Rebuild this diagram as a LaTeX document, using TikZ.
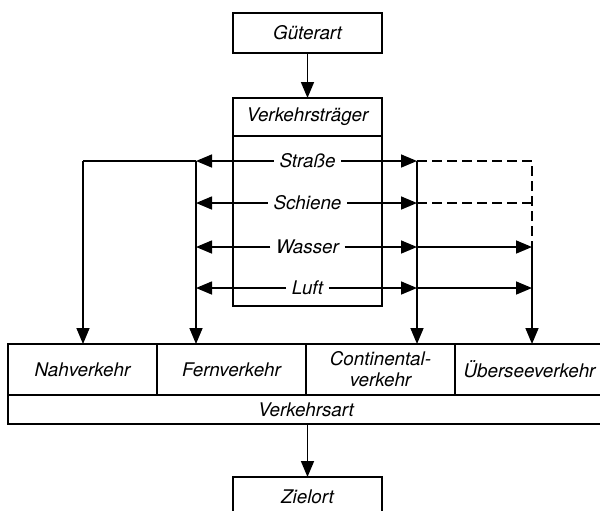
\documentclass[tikz,border=0pt]{standalone}
\usepackage{fontspec}
\setmainfont{TeX Gyre Heros}
\usepackage{tikz}
\usetikzlibrary{arrows.meta}
\usetikzlibrary{positioning}

\begin{document}
\begin{tikzpicture}[x=0.5pt,y=-0.5pt,
	line width=0.8pt,
	font=\fontsize{9.4}{10.5}\selectfont\itshape,
	kasten/.style={draw, inner sep=0pt, outer sep=0pt, minimum width=74.5pt, minimum height=20pt, align=center},
	pfeil/.style={-{Triangle[length=8pt,width=6.5pt]}},
	strich/.style={dash pattern=on 5pt off 2.5pt},
	modus/.style={inner sep=2.5pt}]
	\useasboundingbox (0,0) rectangle (600,510);
	% oberer Teil
	\node[kasten] (gut) at (307.5,33) {Güterart};
	\node[kasten, minimum height=19pt] (vt) at (307.5,117) {Verkehrsträger};
	\node[kasten, minimum height=85pt, anchor=north] (traeger) at (vt.south) {};
	\draw[pfeil] (gut.south) -- (vt.north);
	\foreach \m/\t/\y in {strasse/Straße/161, schiene/Schiene/203, wasser/Wasser/247, luft/Luft/288}
	\node[modus] (\m) at (307.5,\y) {\t};
	\coordinate (n0) at (83,161);
	\coordinate (f0) at (196,161);
	\coordinate (c0) at (417,161);
	\coordinate (u0) at (532,161);
	% unterer Teil
	\node[kasten, minimum height=25.5pt] (nah) at (82.5,369.5) {Nahverkehr};
	\node[kasten, minimum height=25.5pt, right=0pt of nah] (fern) {Fernverkehr};
	\node[kasten, minimum height=25.5pt, right=0pt of fern] (cont) {Continental-\\verkehr};
	\node[kasten, minimum height=25.5pt, right=0pt of cont] (ueber) {Überseeverkehr};
	\node[kasten, minimum width=298pt, minimum height=14.5pt] (art) at (306,409.5) {Verkehrsart};
	\node[kasten] (ziel) at (307.5,497) {Zielort};
	% Pfeile
	\foreach \m in {strasse, schiene, wasser, luft}{
		\draw[pfeil] (\m) -- (\m -| f0);
		\draw[pfeil] (\m) -- (\m -| c0);
	}
	\draw (f0) -- (n0);
	\draw[pfeil] (n0) -- (n0 |- nah.north);
	\draw[pfeil] (f0) -- (f0 |- fern.north);
	\draw[pfeil] (c0) -- (c0 |- cont.north);
	\draw[strich] (c0) -- (u0) -- (u0 |- wasser);
	\draw[strich] (schiene -| c0) -- (schiene -| u0);
	\draw[pfeil] (wasser -| c0) -- (wasser -| u0);
	\draw[pfeil] (luft -| c0) -- (luft -| u0);
	\draw[pfeil] (wasser -| u0) -- (u0 |- ueber.north);
	\draw[pfeil] (art.south -| ziel) -- (ziel.north);
\end{tikzpicture}
\end{document}
